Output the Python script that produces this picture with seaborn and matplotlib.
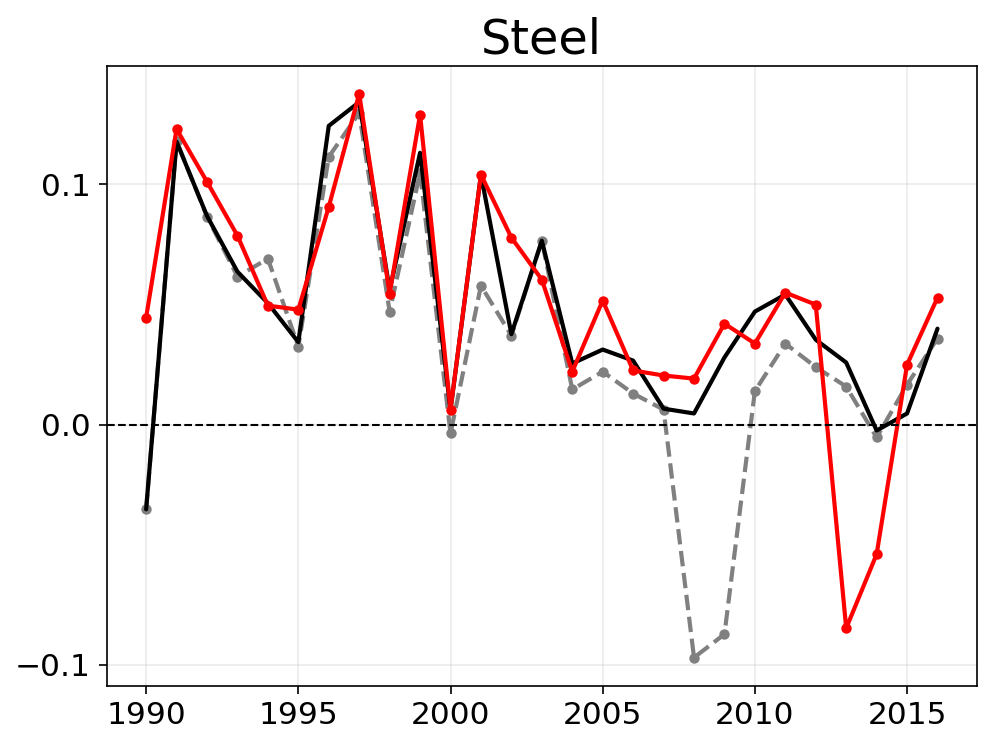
import numpy as np
import pandas as pd
import matplotlib
matplotlib.use("Agg")
import matplotlib.pyplot as plt
import seaborn as sns

# Values
years = list(range(1990, 2017))

black_vals = [-0.0353, 0.1177, 0.0868, 0.0636, 0.0505, 0.0343, 0.1243, 0.1342, 0.0560, 0.1131,
              0.0060, 0.1040, 0.0376, 0.0765, 0.0254, 0.0312, 0.0266, 0.0066, 0.0046, 0.0279,
              0.0470, 0.0541, 0.0353, 0.0258, -0.0025, 0.0046, 0.0399]

gray_vals = [-0.0353, 0.1180, 0.0865, 0.0616, 0.0690, 0.0324, 0.1114, 0.1297, 0.0470, 0.1048,
             -0.0037, 0.0578, 0.0370, 0.0765, 0.0146, 0.0220, 0.0129, 0.0062, -0.0970, -0.0873,
             0.0139, 0.0337, 0.0239, 0.0158, -0.0054, 0.0166, 0.0358]

red_vals = [0.0445, 0.1230, 0.1010, 0.0786, 0.0495, 0.0478, 0.0906, 0.1376, 0.0545, 0.1290,
            0.0062, 0.1040, 0.0778, 0.0603, 0.0220, 0.0516, 0.0225, 0.0204, 0.0191, 0.0420,
            0.0337, 0.0549, 0.0499, -0.0848, -0.0540, 0.0249, 0.0528]

df = pd.DataFrame({"year": years, "black": black_vals, "gray": gray_vals, "red": red_vals})

sns.set_style("white")
plt.rcParams['font.family'] = ['DejaVu Sans']
plt.rcParams['text.color'] = 'black'
plt.rcParams['xtick.color'] = 'black'
plt.rcParams['ytick.color'] = 'black'

fig, ax = plt.subplots(figsize=(6.64, 4.98), dpi=150)

sns.lineplot(data=df, x="year", y="gray", ax=ax, color="gray", linestyle="--",
             marker="o", markersize=5, markeredgewidth=0, linewidth=2)
sns.lineplot(data=df, x="year", y="black", ax=ax, color="black", linewidth=2)
sns.lineplot(data=df, x="year", y="red", ax=ax, color="red",
             marker="o", markersize=5, markeredgewidth=0, linewidth=2)

ax.axhline(0, color="black", linestyle="--", linewidth=1)

ax.set_title("Steel", fontsize=23, color="black")
ax.set_xlabel("")
ax.set_ylabel("")
ax.set_xticks([1990, 1995, 2000, 2005, 2010, 2015])
ax.set_yticks([-0.1, 0.0, 0.1])
ax.tick_params(labelsize=15, left=True, bottom=True, length=4, width=0.8)
ax.grid(True, alpha=0.4, color="#cccccc")
for s in ax.spines.values():
    s.set_color("black")
    s.set_linewidth(0.8)

fig.subplots_adjust(left=0.107, right=0.981, top=0.912, bottom=0.082)
fig.savefig("out.png", dpi=150)
